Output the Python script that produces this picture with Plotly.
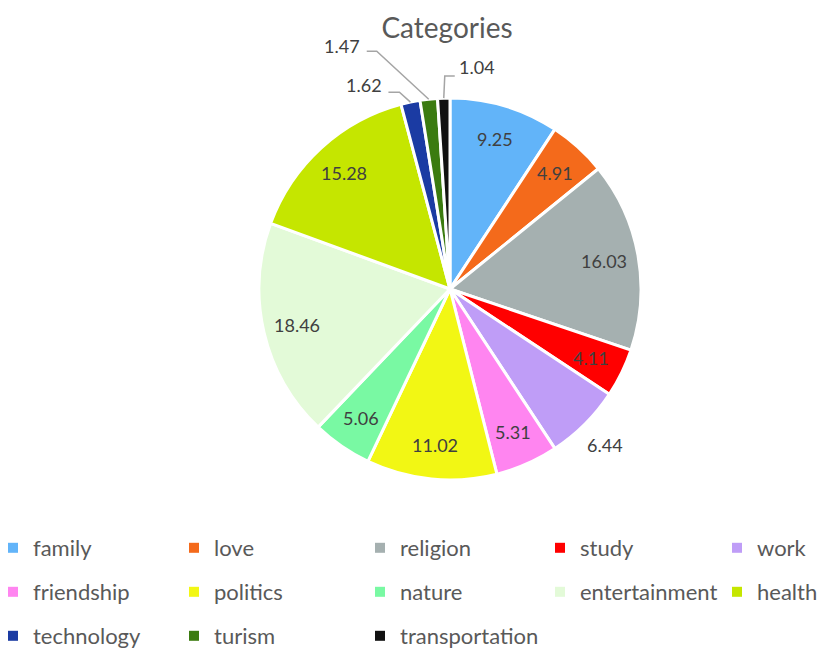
import math
import plotly.graph_objects as go

categories = ["family", "love", "religion", "study", "work", "friendship", "politics",
              "nature", "entertainment", "health", "technology", "turism", "transportation"]
values = [9.25, 4.91, 16.03, 4.11, 6.44, 5.31, 11.02, 5.06, 18.46, 15.28, 1.62, 1.47, 1.04]
colors = ["#62B4F9", "#F46A1B", "#A5B0B0", "#FF0000", "#BF9DF7", "#FF85F0", "#F2F714",
          "#79F9A3", "#E3FAD8", "#C5E600", "#1B3BA3", "#3B7B10", "#111111"]

# label placement style per category: inside / outside / callout
label_mode = ["in", "in", "in", "in", "out", "in", "in", "in", "in", "in", "call", "call", "call"]
# callout geometry in px relative to slice edge: (elbow, line end, label centre)
callouts = {
    10: ((-11, -10), (-22, -10), (-46, -17)),
    11: ((-52, -48), (-62, -48), (-87, -53)),
    12: ((1, -22), (11, -22), (33, -31)),
}

W, H = 826, 653
OFF = 8  # page body margin of the browser
CX, CY, R = 450 - OFF, 289 - OFF, 191  # pixel layout of the pie
FONT = "Lato, Open Sans, sans-serif"

fig = go.Figure(go.Pie(
    labels=categories,
    values=values,
    sort=False,
    direction="clockwise",
    rotation=0,
    marker=dict(colors=colors, line=dict(color="white", width=3)),
    textinfo="none",
    hoverinfo="label+value",
    showlegend=False,
    domain=dict(x=[(CX - R) / W, (CX + R) / W],
                y=[(H - CY - R) / H, (H - CY + R) / H]),
))

def px_to_paper(x, y):
    return x / W, 1 - y / H

annotations, shapes = [], []
total = sum(values)
cum = 0.0
label_font = dict(family=FONT, size=18, color="#404040")
for i, v in enumerate(values):
    theta = 2 * math.pi * (cum + v / 2) / total
    cum += v
    mode = label_mode[i]
    txt = f"{v:.2f}"
    if mode == "call":
        hx = CX + R * math.sin(theta)
        hy = CY - R * math.cos(theta)
        (ex, ey), (lx, ly), (tx, ty) = callouts[i]
        p0 = px_to_paper(hx, hy)
        p1 = px_to_paper(hx + ex, hy + ey)
        p2 = px_to_paper(hx + lx, hy + ly)
        shapes.append(dict(type="path", xref="paper", yref="paper",
                           path=f"M {p0[0]} {p0[1]} L {p1[0]} {p1[1]} L {p2[0]} {p2[1]}",
                           line=dict(color="#A5A5A5", width=1.5)))
        pt = px_to_paper(hx + tx, hy + ty)
    else:
        k = 0.82 if mode == "in" else 1.15
        pt = px_to_paper(CX + k * R * math.sin(theta), CY - k * R * math.cos(theta))
    annotations.append(dict(x=pt[0], y=pt[1], xref="paper", yref="paper", text=txt,
                            xanchor="center", yanchor="middle",
                            showarrow=False, font=label_font))

# legend: 5 columns x 3 rows, one single-entry legend per category
col_marker_px = [11, 193, 379, 559, 736]
row_center_px = [548, 592, 636]
legend_layout = {}
for i, (name, col) in enumerate(zip(categories, colors)):
    key = "legend" if i == 0 else f"legend{i + 1}"
    fig.add_trace(go.Scatter(x=[None], y=[None], mode="markers", name=name,
                             marker=dict(symbol="square", size=10, color=col),
                             showlegend=True, legend=key, hoverinfo="skip"))
    r, c = divmod(i, 5)
    lx, ly = px_to_paper(max(col_marker_px[c] - OFF - 19 + 15, 0), row_center_px[r] - OFF)
    legend_layout[key] = dict(x=lx, xanchor="left", y=ly, yanchor="middle",
                              indentation=-15,
                              bgcolor="rgba(0,0,0,0)", borderwidth=0,
                              font=dict(family=FONT, size=22, color="#595959"))

fig.update_layout(
    width=W, height=H,
    margin=dict(l=0, r=0, t=0, b=0),
    paper_bgcolor="white", plot_bgcolor="white",
    title=dict(text="Categories", x=(447 - OFF) / W, xanchor="center", y=1 - (28 - OFF) / H,
               yanchor="middle",
               font=dict(family=FONT, size=28, color="#595959")),
    xaxis=dict(visible=False), yaxis=dict(visible=False),
    annotations=annotations,
    shapes=shapes,
    **legend_layout,
)

fig.write_html("out.html")
